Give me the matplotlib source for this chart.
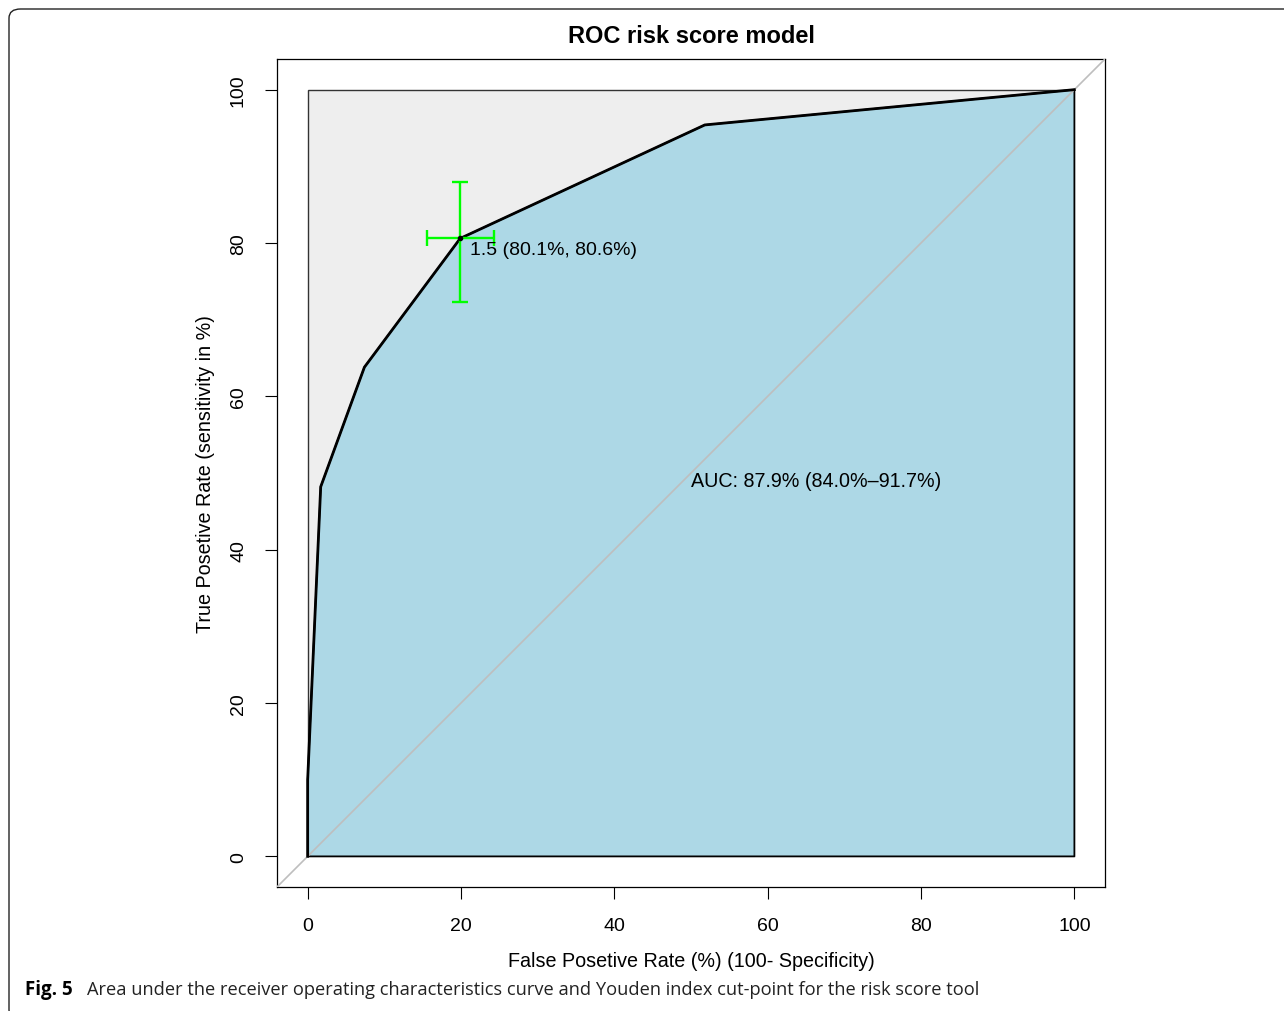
import numpy as np
import matplotlib.pyplot as plt
from matplotlib.patches import FancyBboxPatch

# ROC curve points (false positive rate %, true positive rate %)
fpr = [0, 0, 1.7, 7.4, 19.9, 51.8, 100]
tpr = [0, 10, 48.2, 63.8, 80.6, 95.4, 100]

# Youden cut-point and its confidence ranges
thr_label = "1.5 (80.1%, 80.6%)"
thr_fpr = 19.9
thr_tpr = 80.6
thr_fpr_ci = [15.6, 24.3]
thr_tpr_ci = [72.3, 88.0]

auc_text = "AUC: 87.9% (84.0%\u201391.7%)"
ticks = [0, 20, 40, 60, 80, 100]

plt.rcParams['font.family'] = ['Liberation Sans', 'DejaVu Sans']

fig = plt.figure(figsize=(12.84, 10.12), dpi=100)
ax = fig.add_axes([277 / 1284, 1 - 888 / 1012, 828 / 1284, 828 / 1012])

# grey max-AUC square and blue area under the curve
ax.fill([0, 100, 100, 0], [0, 0, 100, 100], facecolor='#EEEEEE',
        edgecolor='#333333', lw=1, zorder=1)
ax.fill(fpr + [100], tpr + [0], facecolor='#ADD8E6', edgecolor='black',
        lw=1.2, zorder=2)
ax.axline((0, 0), (100, 100), color='#BEBEBE', lw=1.2, zorder=3)
ax.plot(fpr, tpr, color='black', lw=2, zorder=4)

# cut-point with error bars
ax.errorbar(thr_fpr, thr_tpr,
            xerr=[[thr_fpr - thr_fpr_ci[0]], [thr_fpr_ci[1] - thr_fpr]],
            yerr=[[thr_tpr - thr_tpr_ci[0]], [thr_tpr_ci[1] - thr_tpr]],
            fmt='none', ecolor='#00FF00', elinewidth=1.7, capsize=5.8,
            capthick=1.7, zorder=5)
ax.plot(thr_fpr, thr_tpr, 'o', color='black', ms=3, zorder=6)
ax.annotate(thr_label, xy=(thr_fpr, thr_tpr), xytext=(10, -11),
            textcoords='offset pixels', ha='left', va='center', fontsize=14,
            zorder=7)

ax.text(50, 50.3, auc_text, ha='left', va='top', fontsize=14.2, zorder=7)

ax.set_xlim(-4, 104)
ax.set_ylim(-4, 104)
ax.set_xticks(ticks)
ax.set_yticks(ticks)
ax.tick_params(length=8.6, width=0.8, labelsize=14, pad=13)
for lab in ax.get_yticklabels():
    lab.set_rotation(90)
    lab.set_va('center')
for s in ax.spines.values():
    s.set_linewidth(0.9)

ax.set_title("ROC risk score model", fontsize=17, fontweight='bold', pad=12)
ax.set_xlabel("False Posetive Rate (%) (100- Specificity)", fontsize=14.2,
              labelpad=12)
ax.set_ylabel("True Posetive Rate (sensitivity in %)", fontsize=14.2,
              labelpad=11)

# journal figure frame and caption
frame = FancyBboxPatch((9 / 1284, -8 / 1012), 1.1, 1 - 2 / 1012,
                       boxstyle='round,pad=0,rounding_size=0.009',
                       transform=fig.transFigure, facecolor='none',
                       edgecolor='#222222', lw=1, clip_on=False)
fig.patches.append(frame)
fig.text(25 / 1284, 1 - 990 / 1012, "Fig. 5", fontsize=13.5,
         fontweight='bold', family=['Open Sans', 'DejaVu Sans'], va='center')
fig.text(87 / 1284, 1 - 990 / 1012,
         "Area under the receiver operating characteristics curve and "
         "Youden index cut-point for the risk score tool",
         fontsize=13.15, family=['Open Sans', 'DejaVu Sans'], color='#222222',
         va='center')

fig.savefig('out.png', dpi=100)
